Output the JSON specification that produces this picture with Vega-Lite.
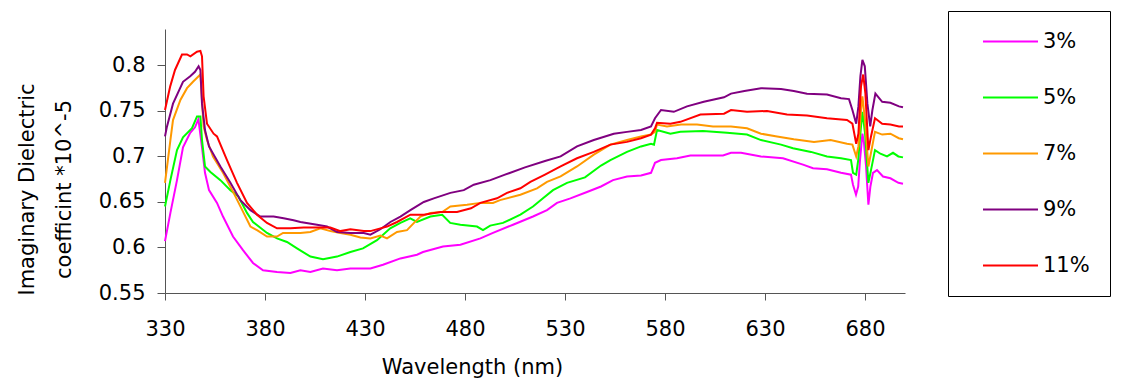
{
"$schema": "https://vega.github.io/schema/vega-lite/v6.json",
"width": 740, "height": 264,
"autosize": "none",
"padding": {"left": 165, "top": 29, "right": 224, "bottom": 90},
"background": "white",
"config": {"view": {"stroke": null}, "font": "DejaVu Sans"},
"data": {"values": [
{"s":"3%","w":330,"v":0.607},{"s":"3%","w":332.7,"v":0.638},{"s":"3%","w":336,"v":0.674},{"s":"3%","w":339,"v":0.71},{"s":"3%","w":342.6,"v":0.726},{"s":"3%","w":345,"v":0.732},{"s":"3%","w":346.7,"v":0.741},{"s":"3%","w":348.5,"v":0.71},{"s":"3%","w":350,"v":0.682},{"s":"3%","w":352,"v":0.663},{"s":"3%","w":356,"v":0.649},{"s":"3%","w":359,"v":0.634},{"s":"3%","w":364,"v":0.612},{"s":"3%","w":369,"v":0.597},{"s":"3%","w":374,"v":0.583},{"s":"3%","w":379,"v":0.575},{"s":"3%","w":386,"v":0.573},{"s":"3%","w":392.7,"v":0.572},{"s":"3%","w":397.7,"v":0.575},{"s":"3%","w":402.7,"v":0.573},{"s":"3%","w":409,"v":0.577},{"s":"3%","w":416,"v":0.575},{"s":"3%","w":422.7,"v":0.577},{"s":"3%","w":432.7,"v":0.577},{"s":"3%","w":439,"v":0.581},{"s":"3%","w":447.7,"v":0.588},{"s":"3%","w":456,"v":0.592},{"s":"3%","w":459,"v":0.595},{"s":"3%","w":469,"v":0.601},{"s":"3%","w":477.7,"v":0.603},{"s":"3%","w":487.7,"v":0.61},{"s":"3%","w":494,"v":0.616},{"s":"3%","w":504,"v":0.625},{"s":"3%","w":514,"v":0.634},{"s":"3%","w":521,"v":0.641},{"s":"3%","w":526,"v":0.649},{"s":"3%","w":532.7,"v":0.654},{"s":"3%","w":541,"v":0.661},{"s":"3%","w":548,"v":0.667},{"s":"3%","w":554,"v":0.674},{"s":"3%","w":561,"v":0.678},{"s":"3%","w":568,"v":0.679},{"s":"3%","w":573,"v":0.682},{"s":"3%","w":575,"v":0.693},{"s":"3%","w":578,"v":0.696},{"s":"3%","w":586,"v":0.698},{"s":"3%","w":592.7,"v":0.701},{"s":"3%","w":609,"v":0.701},{"s":"3%","w":613,"v":0.704},{"s":"3%","w":618,"v":0.704},{"s":"3%","w":628,"v":0.7},{"s":"3%","w":639,"v":0.698},{"s":"3%","w":649,"v":0.691},{"s":"3%","w":654,"v":0.687},{"s":"3%","w":661,"v":0.686},{"s":"3%","w":668,"v":0.682},{"s":"3%","w":673,"v":0.68},{"s":"3%","w":674,"v":0.669},{"s":"3%","w":675.5,"v":0.658},{"s":"3%","w":676.6,"v":0.667},{"s":"3%","w":677.5,"v":0.696},{"s":"3%","w":678.7,"v":0.725},{"s":"3%","w":679.5,"v":0.715},{"s":"3%","w":680.5,"v":0.69},{"s":"3%","w":681.7,"v":0.647},{"s":"3%","w":682.7,"v":0.667},{"s":"3%","w":684,"v":0.682},{"s":"3%","w":686,"v":0.685},{"s":"3%","w":689,"v":0.678},{"s":"3%","w":692.7,"v":0.676},{"s":"3%","w":696.7,"v":0.671},{"s":"3%","w":699,"v":0.67},
{"s":"5%","w":330,"v":0.645},{"s":"5%","w":332.7,"v":0.674},{"s":"5%","w":336,"v":0.707},{"s":"5%","w":339,"v":0.721},{"s":"5%","w":343.5,"v":0.731},{"s":"5%","w":346,"v":0.744},{"s":"5%","w":347.7,"v":0.744},{"s":"5%","w":348.5,"v":0.718},{"s":"5%","w":350,"v":0.689},{"s":"5%","w":352.7,"v":0.683},{"s":"5%","w":357.7,"v":0.674},{"s":"5%","w":362.7,"v":0.663},{"s":"5%","w":366.7,"v":0.656},{"s":"5%","w":371,"v":0.638},{"s":"5%","w":374,"v":0.628},{"s":"5%","w":381,"v":0.616},{"s":"5%","w":386,"v":0.61},{"s":"5%","w":391,"v":0.606},{"s":"5%","w":396,"v":0.599},{"s":"5%","w":402.7,"v":0.59},{"s":"5%","w":409,"v":0.587},{"s":"5%","w":416,"v":0.59},{"s":"5%","w":422.7,"v":0.595},{"s":"5%","w":429,"v":0.599},{"s":"5%","w":436,"v":0.608},{"s":"5%","w":442.6,"v":0.621},{"s":"5%","w":447.7,"v":0.627},{"s":"5%","w":452.6,"v":0.632},{"s":"5%","w":456,"v":0.628},{"s":"5%","w":462.7,"v":0.634},{"s":"5%","w":468.6,"v":0.636},{"s":"5%","w":472.6,"v":0.627},{"s":"5%","w":477.7,"v":0.625},{"s":"5%","w":486,"v":0.623},{"s":"5%","w":489,"v":0.619},{"s":"5%","w":492.6,"v":0.624},{"s":"5%","w":499,"v":0.627},{"s":"5%","w":507.7,"v":0.636},{"s":"5%","w":514,"v":0.645},{"s":"5%","w":519,"v":0.654},{"s":"5%","w":524,"v":0.663},{"s":"5%","w":531,"v":0.671},{"s":"5%","w":540,"v":0.677},{"s":"5%","w":548,"v":0.69},{"s":"5%","w":552.7,"v":0.696},{"s":"5%","w":561,"v":0.705},{"s":"5%","w":568,"v":0.711},{"s":"5%","w":573,"v":0.714},{"s":"5%","w":574.5,"v":0.713},{"s":"5%","w":576,"v":0.729},{"s":"5%","w":582.7,"v":0.725},{"s":"5%","w":587.7,"v":0.727},{"s":"5%","w":599,"v":0.728},{"s":"5%","w":611,"v":0.726},{"s":"5%","w":621,"v":0.724},{"s":"5%","w":628,"v":0.718},{"s":"5%","w":638,"v":0.713},{"s":"5%","w":644,"v":0.709},{"s":"5%","w":653,"v":0.705},{"s":"5%","w":661,"v":0.7},{"s":"5%","w":668,"v":0.698},{"s":"5%","w":673,"v":0.696},{"s":"5%","w":674,"v":0.682},{"s":"5%","w":675.6,"v":0.68},{"s":"5%","w":676.6,"v":0.696},{"s":"5%","w":678,"v":0.733},{"s":"5%","w":678.7,"v":0.749},{"s":"5%","w":680,"v":0.726},{"s":"5%","w":681.7,"v":0.671},{"s":"5%","w":683,"v":0.685},{"s":"5%","w":685,"v":0.707},{"s":"5%","w":687.7,"v":0.703},{"s":"5%","w":691,"v":0.7},{"s":"5%","w":694,"v":0.704},{"s":"5%","w":696.7,"v":0.7},{"s":"5%","w":699,"v":0.699},
{"s":"7%","w":330,"v":0.671},{"s":"7%","w":332.7,"v":0.718},{"s":"7%","w":334,"v":0.74},{"s":"7%","w":337.7,"v":0.762},{"s":"7%","w":341,"v":0.775},{"s":"7%","w":344,"v":0.782},{"s":"7%","w":346.8,"v":0.788},{"s":"7%","w":347.7,"v":0.79},{"s":"7%","w":348.5,"v":0.762},{"s":"7%","w":349.3,"v":0.733},{"s":"7%","w":351,"v":0.718},{"s":"7%","w":354,"v":0.7},{"s":"7%","w":359,"v":0.682},{"s":"7%","w":364.3,"v":0.66},{"s":"7%","w":369.3,"v":0.638},{"s":"7%","w":372.7,"v":0.623},{"s":"7%","w":376,"v":0.619},{"s":"7%","w":381,"v":0.612},{"s":"7%","w":386,"v":0.612},{"s":"7%","w":389,"v":0.616},{"s":"7%","w":397.7,"v":0.616},{"s":"7%","w":402.7,"v":0.617},{"s":"7%","w":407.7,"v":0.621},{"s":"7%","w":412.7,"v":0.618},{"s":"7%","w":417.7,"v":0.616},{"s":"7%","w":422.7,"v":0.614},{"s":"7%","w":427.7,"v":0.611},{"s":"7%","w":432.7,"v":0.61},{"s":"7%","w":437.7,"v":0.613},{"s":"7%","w":441,"v":0.61},{"s":"7%","w":446,"v":0.617},{"s":"7%","w":451,"v":0.619},{"s":"7%","w":454.5,"v":0.627},{"s":"7%","w":457.7,"v":0.634},{"s":"7%","w":462.7,"v":0.638},{"s":"7%","w":468.6,"v":0.639},{"s":"7%","w":472.7,"v":0.645},{"s":"7%","w":481,"v":0.647},{"s":"7%","w":487.7,"v":0.649},{"s":"7%","w":494,"v":0.649},{"s":"7%","w":497.5,"v":0.652},{"s":"7%","w":507.7,"v":0.658},{"s":"7%","w":516,"v":0.665},{"s":"7%","w":521,"v":0.672},{"s":"7%","w":527.8,"v":0.678},{"s":"7%","w":536,"v":0.689},{"s":"7%","w":544.4,"v":0.702},{"s":"7%","w":552.7,"v":0.713},{"s":"7%","w":561,"v":0.718},{"s":"7%","w":568,"v":0.722},{"s":"7%","w":573,"v":0.724},{"s":"7%","w":575,"v":0.727},{"s":"7%","w":576,"v":0.735},{"s":"7%","w":581,"v":0.733},{"s":"7%","w":588,"v":0.735},{"s":"7%","w":596,"v":0.735},{"s":"7%","w":604,"v":0.733},{"s":"7%","w":613,"v":0.733},{"s":"7%","w":621,"v":0.731},{"s":"7%","w":628,"v":0.725},{"s":"7%","w":636,"v":0.722},{"s":"7%","w":644.4,"v":0.719},{"s":"7%","w":654.5,"v":0.716},{"s":"7%","w":662.8,"v":0.718},{"s":"7%","w":671,"v":0.714},{"s":"7%","w":673.7,"v":0.713},{"s":"7%","w":675.6,"v":0.7},{"s":"7%","w":676.7,"v":0.711},{"s":"7%","w":678,"v":0.751},{"s":"7%","w":678.7,"v":0.766},{"s":"7%","w":680,"v":0.74},{"s":"7%","w":681.7,"v":0.689},{"s":"7%","w":683,"v":0.704},{"s":"7%","w":685,"v":0.727},{"s":"7%","w":688.6,"v":0.724},{"s":"7%","w":692.7,"v":0.725},{"s":"7%","w":696.9,"v":0.72},{"s":"7%","w":699,"v":0.719},
{"s":"9%","w":330,"v":0.722},{"s":"9%","w":331,"v":0.733},{"s":"9%","w":334,"v":0.758},{"s":"9%","w":339,"v":0.782},{"s":"9%","w":342.6,"v":0.788},{"s":"9%","w":345,"v":0.793},{"s":"9%","w":346.8,"v":0.799},{"s":"9%","w":347.7,"v":0.795},{"s":"9%","w":348.5,"v":0.758},{"s":"9%","w":350,"v":0.729},{"s":"9%","w":352,"v":0.711},{"s":"9%","w":357.7,"v":0.689},{"s":"9%","w":362.7,"v":0.671},{"s":"9%","w":367.7,"v":0.652},{"s":"9%","w":372.7,"v":0.641},{"s":"9%","w":377.7,"v":0.634},{"s":"9%","w":384.3,"v":0.634},{"s":"9%","w":389.3,"v":0.632},{"s":"9%","w":394.3,"v":0.63},{"s":"9%","w":397.7,"v":0.628},{"s":"9%","w":406,"v":0.625},{"s":"9%","w":411,"v":0.623},{"s":"9%","w":416,"v":0.617},{"s":"9%","w":422.7,"v":0.616},{"s":"9%","w":429.4,"v":0.616},{"s":"9%","w":432.7,"v":0.614},{"s":"9%","w":437.7,"v":0.62},{"s":"9%","w":442.7,"v":0.628},{"s":"9%","w":447.7,"v":0.634},{"s":"9%","w":452.7,"v":0.641},{"s":"9%","w":459.4,"v":0.65},{"s":"9%","w":464.4,"v":0.654},{"s":"9%","w":472.7,"v":0.66},{"s":"9%","w":479.4,"v":0.663},{"s":"9%","w":484.4,"v":0.669},{"s":"9%","w":492.7,"v":0.674},{"s":"9%","w":500,"v":0.68},{"s":"9%","w":510,"v":0.688},{"s":"9%","w":520,"v":0.695},{"s":"9%","w":527.8,"v":0.7},{"s":"9%","w":536,"v":0.711},{"s":"9%","w":544.4,"v":0.718},{"s":"9%","w":554.4,"v":0.725},{"s":"9%","w":561,"v":0.727},{"s":"9%","w":568,"v":0.729},{"s":"9%","w":573,"v":0.733},{"s":"9%","w":575,"v":0.742},{"s":"9%","w":578,"v":0.751},{"s":"9%","w":584.4,"v":0.749},{"s":"9%","w":591,"v":0.755},{"s":"9%","w":599.4,"v":0.76},{"s":"9%","w":609.5,"v":0.765},{"s":"9%","w":613,"v":0.769},{"s":"9%","w":619.7,"v":0.772},{"s":"9%","w":628,"v":0.775},{"s":"9%","w":638,"v":0.774},{"s":"9%","w":644.4,"v":0.772},{"s":"9%","w":651,"v":0.769},{"s":"9%","w":661,"v":0.768},{"s":"9%","w":668,"v":0.764},{"s":"9%","w":672,"v":0.763},{"s":"9%","w":673.7,"v":0.751},{"s":"9%","w":675.6,"v":0.736},{"s":"9%","w":676.7,"v":0.755},{"s":"9%","w":677.7,"v":0.788},{"s":"9%","w":678.7,"v":0.806},{"s":"9%","w":679.9,"v":0.799},{"s":"9%","w":681.2,"v":0.758},{"s":"9%","w":682.6,"v":0.733},{"s":"9%","w":683.7,"v":0.751},{"s":"9%","w":685.2,"v":0.769},{"s":"9%","w":688.6,"v":0.76},{"s":"9%","w":692.7,"v":0.759},{"s":"9%","w":697,"v":0.755},{"s":"9%","w":699,"v":0.754},
{"s":"11%","w":330,"v":0.751},{"s":"11%","w":332.6,"v":0.777},{"s":"11%","w":335,"v":0.795},{"s":"11%","w":338.5,"v":0.812},{"s":"11%","w":341,"v":0.812},{"s":"11%","w":342.7,"v":0.81},{"s":"11%","w":346,"v":0.815},{"s":"11%","w":347.7,"v":0.816},{"s":"11%","w":348.5,"v":0.81},{"s":"11%","w":349.3,"v":0.766},{"s":"11%","w":351,"v":0.736},{"s":"11%","w":354.3,"v":0.725},{"s":"11%","w":356,"v":0.722},{"s":"11%","w":361,"v":0.696},{"s":"11%","w":366,"v":0.671},{"s":"11%","w":371,"v":0.649},{"s":"11%","w":376,"v":0.636},{"s":"11%","w":381,"v":0.627},{"s":"11%","w":386,"v":0.621},{"s":"11%","w":392.7,"v":0.621},{"s":"11%","w":399.4,"v":0.622},{"s":"11%","w":406,"v":0.622},{"s":"11%","w":412.7,"v":0.622},{"s":"11%","w":417.7,"v":0.618},{"s":"11%","w":422.7,"v":0.62},{"s":"11%","w":429.4,"v":0.618},{"s":"11%","w":432.7,"v":0.618},{"s":"11%","w":437.7,"v":0.621},{"s":"11%","w":441,"v":0.623},{"s":"11%","w":446,"v":0.628},{"s":"11%","w":452.7,"v":0.636},{"s":"11%","w":459.4,"v":0.636},{"s":"11%","w":467.7,"v":0.639},{"s":"11%","w":476,"v":0.639},{"s":"11%","w":483,"v":0.643},{"s":"11%","w":487.7,"v":0.649},{"s":"11%","w":496,"v":0.654},{"s":"11%","w":501,"v":0.66},{"s":"11%","w":507.7,"v":0.665},{"s":"11%","w":512.7,"v":0.672},{"s":"11%","w":520,"v":0.68},{"s":"11%","w":527.8,"v":0.689},{"s":"11%","w":536,"v":0.698},{"s":"11%","w":544.4,"v":0.705},{"s":"11%","w":552.7,"v":0.713},{"s":"11%","w":561,"v":0.716},{"s":"11%","w":568,"v":0.72},{"s":"11%","w":573,"v":0.724},{"s":"11%","w":575,"v":0.731},{"s":"11%","w":576,"v":0.737},{"s":"11%","w":582.7,"v":0.736},{"s":"11%","w":587.7,"v":0.738},{"s":"11%","w":597.7,"v":0.746},{"s":"11%","w":609.5,"v":0.747},{"s":"11%","w":613,"v":0.751},{"s":"11%","w":621,"v":0.749},{"s":"11%","w":631,"v":0.75},{"s":"11%","w":641,"v":0.746},{"s":"11%","w":651,"v":0.745},{"s":"11%","w":661,"v":0.742},{"s":"11%","w":671,"v":0.74},{"s":"11%","w":673.7,"v":0.736},{"s":"11%","w":675.6,"v":0.714},{"s":"11%","w":676.7,"v":0.725},{"s":"11%","w":678,"v":0.777},{"s":"11%","w":679.1,"v":0.79},{"s":"11%","w":680.2,"v":0.769},{"s":"11%","w":681.7,"v":0.707},{"s":"11%","w":683,"v":0.722},{"s":"11%","w":685,"v":0.742},{"s":"11%","w":688.6,"v":0.736},{"s":"11%","w":692.7,"v":0.735},{"s":"11%","w":697,"v":0.733},{"s":"11%","w":699,"v":0.733}
]},
"mark": {"type": "line", "strokeWidth": 2},
"encoding": {
  "x": {"field": "w", "type": "quantitative",
    "scale": {"domain": [330, 700], "nice": false, "zero": false},
    "axis": {"values": [330, 380, 430, 480, 530, 580, 630, 680], "grid": false,
      "title": "Wavelength (nm)", "titleFontSize": 21, "titleFontWeight": "normal", "titleColor": "black",
      "titleX": 307, "titleY": 80, "titleBaseline": "alphabetic", "titleAlign": "center",
      "labelFontSize": 21, "labelColor": "black", "labelFlush": false, "labelOverlap": false,
      "tickSize": 7, "labelPadding": 18, "domainColor": "#555", "tickColor": "#555"}},
  "y": {"field": "v", "type": "quantitative",
    "scale": {"domain": [0.55, 0.84], "nice": false, "zero": false},
    "axis": {"values": [0.55, 0.6, 0.65, 0.7, 0.75, 0.8], "format": ".2~f", "grid": false,
      "title": ["Imaginary Dielectric", "coefficint *10^-5"], "titleFontSize": 21, "titleFontWeight": "normal", "titleColor": "black",
      "titleX": -132, "titleY": 160, "titleAngle": 270, "titleAlign": "center", "titleBaseline": "alphabetic", "titleLineHeight": 37,
      "labelFontSize": 21, "labelColor": "black", "labelFlush": false, "labelOverlap": false,
      "tickSize": 8, "labelPadding": 12, "domainColor": "#555", "tickColor": "#555"}},
  "color": {"field": "s", "type": "nominal",
    "scale": {"domain": ["3%", "5%", "7%", "9%", "11%"], "range": ["#FF00FF", "#00FF00", "#FF9900", "#800080", "#FF0000"]},
    "legend": {"orient": "none", "legendX": 783, "legendY": -18, "title": null,
      "symbolType": "M-5,0H5", "symbolSize": 121, "symbolStrokeWidth": 2,
      "labelFontSize": 21, "labelColor": "black", "labelOffset": 22,
      "labelExpr": "datum.label + '         '",
      "padding": 20, "symbolOffset": 32, "rowPadding": 34,
      "strokeColor": "black", "fillColor": "white"}}
}
}
